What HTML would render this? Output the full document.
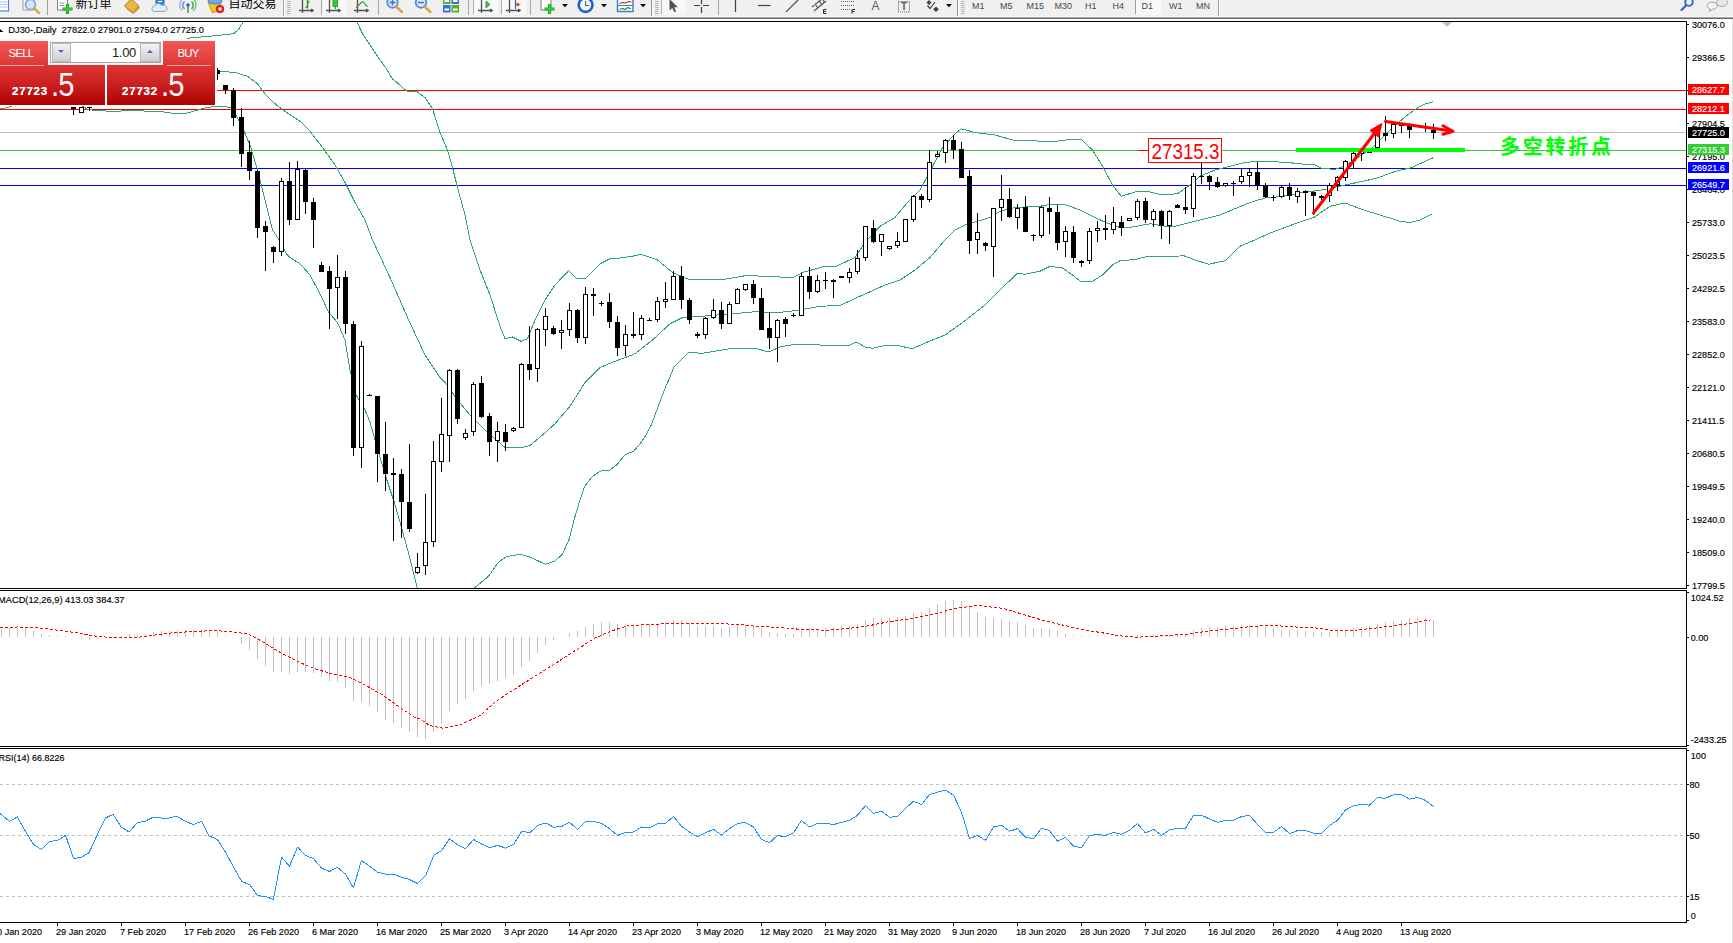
<!DOCTYPE html>
<html><head><meta charset="utf-8"><title>DJ30-,Daily</title>
<style>
html,body{margin:0;padding:0;background:#fff;}
body{width:1733px;height:943px;overflow:hidden;position:relative;font-family:"Liberation Sans","Noto Sans CJK SC",sans-serif;}
#tb{position:absolute;left:0;top:0;width:1733px;height:16px;background:#f0f0f0;overflow:hidden;}
#tb svg{position:absolute;left:0;top:0;}
#tb span{position:absolute;white-space:nowrap;color:#000;}
.tf{font-size:9px;color:#484848 !important;top:-0.5px;line-height:12px;}
#l1{position:absolute;left:0;top:16px;width:1733px;height:1px;background:#f8f8f8;}
#l2{position:absolute;left:0;top:17px;width:1733px;height:1px;background:#a8a8a8;}
#l3{position:absolute;left:0;top:18px;width:1733px;height:1px;background:#686868;}
#chart{position:absolute;left:0;top:0;}
#chart text{font-family:"Liberation Sans","Noto Sans CJK SC",sans-serif;}
#panel{position:absolute;left:0;top:41px;width:217px;height:65px;background:#fff;}
#panel div{position:absolute;box-sizing:border-box;}
.rb{background:linear-gradient(#f35858,#dc3838);color:#fff;font-size:11.5px;text-align:center;line-height:24px;letter-spacing:-0.8px;}
.pb{background:linear-gradient(#e03434 0%,#cc2020 50%,#ae0000 100%);color:#fff;}
.sm{font-weight:700;font-size:11.5px;letter-spacing:0.8px;line-height:11px;text-shadow:0 0 .5px #fff;}
.bg{font-size:33px;line-height:33px;letter-spacing:-1px;transform:scaleX(.88);transform-origin:0 0;}
.sp{background:linear-gradient(#f2f2f2,#cfcfcf);border:1px solid #b8b8b8;}
</style></head><body>
<div id="tb">
<svg width="1733" height="17" viewBox="0 0 1733 17"><!-- toolbar icons; y range 0..16 -->
<g shape-rendering="auto">
<!-- doc icon (cropped) -->
<rect x="-1" y="-2" width="9.5" height="13" fill="#fff" stroke="#5a82d2" stroke-width="1.2"/>
<path d="M0 2h7M0 4.5h7M0 7h7" stroke="#a8c0ee" stroke-width="1"/>
<!-- magnifier doc -->
<rect x="23" y="-2" width="11" height="12" fill="#f4f4f4" stroke="#a0a0a0" stroke-width="1"/>
<circle cx="30.5" cy="4.5" r="5" fill="#cfe2fa" stroke="#7fa6dc" stroke-width="1.6" fill-opacity=".85"/>
<path d="M34.5 8.5L39 13" stroke="#d9a53a" stroke-width="2.4" stroke-linecap="round"/>
<rect x="47" y="0" width="1" height="15" fill="#a0a0a0"/>
<!-- new order -->
<rect x="57.5" y="-2" width="10" height="12" fill="#fff" stroke="#808080"/>
<path d="M59.5 3h5M59.5 5.5h5" stroke="#909090"/>
<path d="M67.5 4v10M62.5 9h10" stroke="#1f9a1f" stroke-width="3.2"/>
<path d="M67.5 4.6v8.8M63.1 9h8.8" stroke="#39d339" stroke-width="1.6"/>
<!-- gold book -->
<path d="M124.5 6L131 -1L139 6L132 12.5z" fill="#e9b840" stroke="#b07c14" stroke-width="1"/>
<path d="M127 8.5L133.5 13L139.5 7.2" fill="none" stroke="#c89632" stroke-width="1.6"/>
<!-- cloud -->
<rect x="156" y="-2" width="8" height="8" fill="#3a8be0" stroke="#1d62b5"/>
<path d="M158 1.5h4" stroke="#fff"/>
<path d="M153.5 11.5a3 3 0 0 1 1-5.6a4 4 0 0 1 7.2-.4a3.2 3.2 0 0 1 3.6 5.8z" fill="#e4ebf5" stroke="#8aa0c0" stroke-width="1"/>
<!-- signal -->
<circle cx="188" cy="5" r="1.8" fill="#2f62c8"/>
<path d="M184.5 1.5a5 5 0 0 0 0 7.5" fill="none" stroke="#5c8ad8" stroke-width="1.5"/>
<path d="M182 -0.5a8 8 0 0 0 0 11" fill="none" stroke="#8fb0e6" stroke-width="1.4"/>
<path d="M191.5 1.5a5 5 0 0 1 0 7.5" fill="none" stroke="#4aa84a" stroke-width="1.6"/><path d="M194 -0.5a8 8 0 0 1 -1 11.5" fill="none" stroke="#7cc47c" stroke-width="1.5"/><path d="M188 6v7" stroke="#3c8c3c" stroke-width="1.4"/>
<!-- autotrading -->
<path d="M208 2.5h13l-3 8l-5.5 2.5z" fill="#f3c62c" stroke="#c79a12" stroke-width="1"/>
<ellipse cx="215" cy="1" rx="7" ry="3" fill="#6ea9e4" stroke="#3d7cc4" stroke-width="1"/>
<circle cx="220" cy="9" r="3.8" fill="#e02818" stroke="#b01208" stroke-width=".8"/>
<rect x="218.5" y="7.5" width="3" height="3" fill="#fff"/>
<!-- separator + gripper -->
<rect x="283" y="0" width="1" height="16" fill="#a8a8a8"/><rect x="284" y="0" width="1" height="16" fill="#fff"/>
<path d="M287 1.5h3.5M287 3.5h3.5M287 5.5h3.5M287 7.5h3.5M287 9.5h3.5M287 11.5h3.5M287 13.5h3.5" stroke="#b4b4b4" stroke-width="1"/>
<!-- bar chart icon -->
<g stroke="#505050" stroke-width="1.3" fill="none"><path d="M302.5 0v13M299 10.5h14"/><path d="M311 9l2.2 1.5l-2.2 1.5"/></g>
<path d="M307.5 0v8.5M305.5 7h2M307.5 2h2" stroke="#1ea01e" stroke-width="1.5" fill="none"/>
<rect x="321" y="0" width="1" height="15" fill="#a8a8a8"/>
<!-- candle icon pressed -->
<rect x="323" y="0" width="23" height="15" fill="#f9f9f9"/>
<g stroke="#505050" stroke-width="1.3" fill="none"><path d="M329.500 0v13M326 10.500h14"/><path d="M338 9l2.200 1.500l-2.200 1.500"/></g>
<rect x="333" y="-1" width="4.500" height="7.500" fill="#2fd32f" stroke="#1a8c1a" stroke-width=".8"/><path d="M335.250 6.500v2.500" stroke="#1a8c1a"/>
<!-- line chart icon -->
<g stroke="#505050" stroke-width="1.3" fill="none"><path d="M357.500 0v13M354 10.500h14"/><path d="M366 9l2.200 1.500l-2.200 1.500"/></g>
<path d="M356 7.500C360 5 361 1 363 2S366 6 367.500 6.500" stroke="#2a9a3a" stroke-width="1.300" fill="none"/>
<rect x="378" y="0" width="1" height="15" fill="#a8a8a8"/>
<!-- zoom in -->
<circle cx="392.500" cy="2.500" r="5.300" fill="#d6e6fb" stroke="#4f86d6" stroke-width="1.700"/>
<path d="M389.500 2.500h6M392.500 -0.500v6" stroke="#3d6fc0" stroke-width="1.400"/>
<path d="M396.500 7L402 12" stroke="#d9a53a" stroke-width="2.400" stroke-linecap="round"/>
<!-- zoom out -->
<circle cx="421" cy="2.500" r="5.300" fill="#d6e6fb" stroke="#4f86d6" stroke-width="1.700"/>
<path d="M418 2.500h6" stroke="#3d6fc0" stroke-width="1.400"/>
<path d="M425 7L430.500 12" stroke="#d9a53a" stroke-width="2.400" stroke-linecap="round"/>
<!-- tile -->
<rect x="443" y="-3" width="7.500" height="7" fill="#55b030"/><rect x="451.500" y="-3" width="7.500" height="7" fill="#3a6fd8"/>
<rect x="443" y="5" width="7.500" height="7.500" fill="#3a6fd8"/><rect x="451.500" y="5" width="7.500" height="7.500" fill="#55b030"/>
<path d="M444.500 1h4.500M453 1h4.500M444.500 9.500h4.500M453 9.500h4.500" stroke="#fff" stroke-width="2"/>
<rect x="468" y="0" width="1" height="15" fill="#a8a8a8"/>
<!-- autoscroll pressed -->
<rect x="473" y="0" width="1" height="14" fill="#b0b0b0"/><rect x="474" y="0" width="24" height="15" fill="#f9f9f9"/>
<g stroke="#505050" stroke-width="1.300" fill="none"><path d="M481.500 0v13M478 10.500h14"/><path d="M490 9l2.200 1.500l-2.200 1.500"/></g>
<path d="M486 1.200L490 4.500L486 7.800z" fill="#3fd03f" stroke="#1a9a1a" stroke-width=".9"/>
<rect x="501" y="0" width="1" height="14" fill="#b0b0b0"/><rect x="502" y="0" width="24" height="15" fill="#f9f9f9"/>
<g stroke="#505050" stroke-width="1.300" fill="none"><path d="M509.500 0v13M506 10.500h14"/><path d="M518 9l2.200 1.500l-2.200 1.500"/></g>
<path d="M515.500 0v9" stroke="#2a62b8" stroke-width="1.200"/><path d="M520.500 4.500h-4M518.500 2.800L516.500 4.500L518.500 6.200" stroke="#d8401c" stroke-width="1.200" fill="none"/>
<rect x="530" y="0" width="1" height="15" fill="#a8a8a8"/>
<!-- indicators -->
<rect x="541" y="-2" width="10" height="12" fill="#fff" stroke="#808080"/>
<path d="M549.500 4v10M544.500 9h10" stroke="#1f9a1f" stroke-width="3.200"/>
<path d="M549.500 4.600v8.800M545.100 9h8.800" stroke="#39d339" stroke-width="1.600"/>
<path d="M562 4h6l-3 3.200z" fill="#000"/>
<!-- clock -->
<circle cx="585.6" cy="5" r="6.900" fill="#f4f8ff" stroke="#1f62c8" stroke-width="2.600"/>
<path d="M585.6 1v4.500h3.500" stroke="#606060" stroke-width="1.100" fill="none"/>
<path d="M601 4h6l-3 3.200z" fill="#000"/>
<!-- templates -->
<rect x="617.500" y="-2" width="15.500" height="13.500" fill="#fff" stroke="#3d78d0" stroke-width="1.400"/>
<path d="M619.500 3.500l3-1l3 .5l3-1.500l3 .5" stroke="#a03018" stroke-width="1.200" fill="none"/>
<path d="M618 5.500h15" stroke="#3d78d0" stroke-width="1"/>
<path d="M619.500 9.500l3-1l2.500 1l3-2l3 1.500" stroke="#1e9a2e" stroke-width="1.200" fill="none"/>
<path d="M640 4h6l-3 3.200z" fill="#000"/>
<rect x="651" y="0" width="1" height="17" fill="#909090"/><rect x="652" y="0" width="1" height="17" fill="#fff"/>
<path d="M655 1.500h3.500M655 3.500h3.500M655 5.500h3.500M655 7.500h3.500M655 9.500h3.500M655 11.500h3.500M655 13.500h3.500" stroke="#b4b4b4" stroke-width="1"/>
<rect x="661" y="0" width="1" height="14" fill="#b0b0b0"/><rect x="662" y="0" width="24" height="15" fill="#f8f8f8"/>
<path d="M669.500 -1v11.500l2.800-2.600l2 4.300l1.800-.8l-2-4.200h3.800z" fill="#505050"/>
<path d="M694 5.500h6M703 5.500h6M701.500 -1v5M701.500 7v6" stroke="#404040" stroke-width="1.200"/>
<rect x="718" y="0" width="1" height="15" fill="#a8a8a8"/>
<path d="M735.500 0v12" stroke="#404040" stroke-width="1.200"/>
<path d="M758 5.500h12.500" stroke="#404040" stroke-width="1.200"/>
<path d="M786 12L798.500 -0.500" stroke="#505050" stroke-width="1.200"/>
<!-- channel -->
<path d="M812 7L822 -1M814 11L826 1M815 3.500l3 5M819 0.500l3 5M822.500 -1l2 3.500" stroke="#505050" stroke-width="1.100" fill="none"/>
<path d="M823.500 9.500v4h3M823.500 9.500h3M823.500 11.500h2.500" stroke="#303030" stroke-width="1" fill="none"/>
<!-- fibo -->
<path d="M841 1.500h13.500M841 5.500h13.500M841 9.500h9" stroke="#606060" stroke-width="1" stroke-dasharray="1,1"/>
<path d="M852 9.500v4.200M852 9.500h3M852 11.500h2.500" stroke="#303030" stroke-width="1" fill="none"/>
<!-- A / T / arrows are text below -->
<rect x="898.500" y="1.500" width="11" height="10.500" fill="none" stroke="#606060" stroke-width="1" stroke-dasharray="1,1"/>
<path d="M929 0l2.500 2.500l-2.500 2.500l-2.500-2.500zM936 6.500l2.800 2.800l-2.800 2.800l-2.800-2.800z" fill="#404040"/>
<path d="M927.500 5.500l2.500 3l5-6.500" stroke="#404040" stroke-width="1.200" fill="none"/>
<path d="M946 4h6l-3 3.200z" fill="#000"/>
<rect x="957" y="0" width="1" height="17" fill="#909090"/><rect x="958" y="0" width="1" height="17" fill="#fff"/>
<path d="M961 1.500h3.500M961 3.500h3.500M961 5.500h3.500M961 7.500h3.500M961 9.500h3.500M961 11.500h3.500M961 13.500h3.500" stroke="#b4b4b4" stroke-width="1"/>
<!-- D1 pressed -->
<rect x="1135" y="0" width="1" height="14" fill="#a0a0a0"/><rect x="1136" y="0" width="25" height="15" fill="#f8f8f8"/>
<rect x="1218" y="0" width="1" height="17" fill="#a0a0a0"/><rect x="1219" y="0" width="1" height="17" fill="#fff"/>
<!-- right icons -->
<circle cx="1689" cy="2" r="3.800" fill="#eaf1fc" stroke="#2f62c8" stroke-width="1.800"/>
<path d="M1686 5.500L1681.500 10" stroke="#2f62c8" stroke-width="2.200" stroke-linecap="round"/>
<path d="M1709 3a5 3.600 0 1 1 3 6.300l-2.500 2.200l.3-2.600a5 3.600 0 0 1 -.8-5.900z" fill="#f4f4f4" stroke="#a0a0a0" stroke-width="1"/>
<ellipse cx="1722" cy="2.500" rx="5.500" ry="4" fill="#e8e8e8" stroke="#a8a8a8"/>
</g>
</svg>
<span style="left:75.5px;top:-4.2px;font-size:12px;line-height:16px;">新订单</span>
<span style="left:228.5px;top:-4.2px;font-size:12px;line-height:16px;">自动交易</span>
<span style="left:871.5px;top:-2.5px;font-size:12px;line-height:16px;color:#606060;">A</span>
<span style="left:900.8px;top:-2px;font-size:10.5px;line-height:16px;color:#606060;font-weight:700;">T</span>
<span class="tf" style="left:972px;">M1</span><span class="tf" style="left:1000px;">M5</span><span class="tf" style="left:1026.5px;">M15</span><span class="tf" style="left:1054.5px;">M30</span><span class="tf" style="left:1085px;">H1</span><span class="tf" style="left:1112.5px;">H4</span><span class="tf" style="left:1141.5px;">D1</span><span class="tf" style="left:1169px;">W1</span><span class="tf" style="left:1196px;">MN</span>
</div>
<div id="l1"></div><div id="l2"></div><div id="l3"></div>
<svg id="chart" width="1733" height="943" viewBox="0 0 1733 943" font-family="Liberation Sans, sans-serif">
<g shape-rendering="crispEdges">
<rect x="217" y="90" width="1469" height="1" fill="#ff0000"/>
<rect x="0" y="109" width="1686" height="1" fill="#ff0000"/>
<rect x="0" y="132" width="1686" height="1" fill="#c0c0c0"/>
<rect x="0" y="150" width="1686" height="1" fill="#32cd32"/>
<rect x="0" y="168" width="1686" height="1" fill="#0000ff"/>
<rect x="0" y="185" width="1686" height="1" fill="#0000ff"/>
</g>
<g fill="none" stroke="#2aa864" stroke-width="1" stroke-linejoin="round" shape-rendering="crispEdges">
<polyline points="186.70,38.30 210.80,36.10 233.40,33.80 238.00,30.00 243.50,21.50"/>
<polyline points="356.60,21.50 363.10,34.60 370.70,45.90 378.20,57.20 385.70,67.70 392.50,79.00 397.00,82.40 403.80,88.80 407.50,91.25 417.50,92.00 425.00,97.50 432.50,108.75 440.00,132.50 447.50,150.00 452.50,167.50 457.50,187.50 465.00,215.00 470.00,240.00 480.00,270.00 490.00,295.00 500.00,326.25 505.00,338.75 512.50,337.00 521.00,341.25 527.50,338.75 535.00,320.00 545.00,300.00 555.00,285.00 568.75,270.50 576.00,278.25 585.00,278.75 600.00,263.75 610.00,258.75 620.00,258.00 632.50,256.25 641.25,254.25 657.50,260.00 672.50,272.50 690.00,280.00 725.00,279.25 745.00,275.75 770.00,276.25 792.50,278.00 802.50,272.50 825.00,266.25 835.00,267.00 855.00,257.50 865.00,242.50 880.00,226.25 895.00,217.50 907.50,202.50 920.00,190.00 930.00,171.25 942.50,147.50 955.00,133.75 961.25,128.75 975.00,132.50 995.00,135.00 1012.50,140.00 1030.00,140.50 1050.00,142.00 1070.00,139.50 1081.25,139.50 1092.50,150.00 1102.50,166.25 1112.50,185.00 1121.25,196.25 1137.50,191.25 1150.00,192.00 1162.50,195.00 1177.50,193.75 1190.00,185.00 1200.00,176.25 1215.00,170.00 1230.00,166.25 1245.00,162.50 1257.50,161.25 1270.00,161.75 1285.00,162.20 1302.50,164.10 1313.80,164.50 1321.30,168.20 1335.00,169.50 1345.00,166.00 1360.00,156.00 1372.70,147.60 1390.20,130.00 1402.70,118.80 1414.00,110.00 1424.00,104.40 1432.80,101.90"/>
<polyline points="218.75,71.25 235.00,72.50 247.50,76.25 257.50,83.75 265.00,93.75 275.00,103.75 285.00,111.25 300.00,121.25 310.00,131.25 322.50,147.50 335.00,165.00 345.00,182.50 355.00,202.50 365.00,220.00 372.50,240.00 380.00,256.00 390.00,277.50 407.50,317.50 425.00,355.00 440.00,377.50 446.00,383.75 457.50,400.00 470.00,415.00 487.50,432.50 505.00,447.50 520.00,448.00 530.00,445.50 542.50,435.00 555.00,423.75 570.00,406.25 585.00,382.50 600.00,367.50 615.00,361.25 620.00,359.50 635.00,353.75 652.50,340.00 670.00,323.75 682.50,317.50 702.50,316.25 732.50,313.75 755.00,311.75 775.00,313.00 800.00,310.00 820.00,306.25 840.00,305.50 860.00,296.25 885.00,285.00 900.00,280.00 915.00,270.00 930.00,257.50 945.00,240.00 955.00,230.00 965.00,225.00 977.50,221.25 990.00,217.50 1000.00,211.25 1015.00,207.50 1040.00,206.25 1050.00,204.50 1065.00,204.50 1080.00,210.00 1095.00,217.50 1107.50,223.25 1120.00,227.50 1132.50,227.00 1150.00,223.75 1165.00,226.25 1175.00,226.25 1190.00,222.50 1205.00,218.75 1220.00,215.00 1235.00,208.75 1250.00,202.50 1265.00,198.00 1282.50,196.40 1301.30,192.70 1325.10,189.50 1347.60,184.50 1376.40,178.30 1395.20,171.40 1411.50,167.60 1432.80,157.90"/>
<polyline points="0.00,109.00 6.80,107.60 15.00,105.00 80.00,105.00 88.80,109.80 110.00,111.30 135.50,110.60 165.60,112.10 174.60,113.60 186.70,113.20 203.30,108.30 216.80,106.10 225.80,106.80 231.90,108.30 235.00,113.75 241.25,125.00 250.00,145.00 257.50,170.00 265.00,200.00 272.50,230.00 280.00,241.25 286.25,253.75 290.00,257.50 300.00,263.75 310.00,275.00 320.00,293.75 328.75,312.50 337.50,322.50 345.00,340.00 350.00,370.00 356.00,395.00 364.10,408.00 370.00,422.00 380.20,458.00 386.20,478.00 394.20,502.00 402.20,530.00 408.20,552.00 414.20,576.00 417.20,588.00"/>
<polyline points="474.30,588.00 488.40,576.40 498.40,562.30 506.40,556.70 520.40,554.30 530.50,557.30 545.50,564.30 554.50,561.30 562.50,554.30 569.50,538.30 574.50,518.20 580.60,498.20 584.60,486.20 592.60,476.20 600.60,471.10 609.60,470.10 616.60,465.10 624.60,455.10 633.70,451.10 640.70,443.10 645.90,435.00 651.25,425.00 662.50,395.00 673.75,367.50 688.75,352.50 702.50,353.25 732.50,348.25 755.00,348.25 768.75,352.00 780.00,347.00 795.00,344.25 820.00,345.00 850.00,345.00 856.25,342.00 865.00,347.00 872.50,348.25 885.00,345.50 897.50,345.50 912.50,348.75 927.50,342.00 945.00,335.00 962.50,322.50 985.00,305.00 1002.50,287.50 1017.50,273.25 1025.00,274.25 1040.00,271.25 1050.00,266.25 1062.50,268.00 1072.50,275.00 1081.25,282.00 1092.50,281.25 1102.50,275.00 1112.50,265.00 1120.00,260.75 1135.00,259.50 1145.00,257.00 1167.50,256.75 1183.75,255.75 1195.00,260.00 1208.75,264.25 1225.00,260.75 1240.00,246.25 1255.00,240.00 1270.00,233.00 1295.00,223.75 1313.75,217.50 1330.00,206.25 1345.00,203.00 1360.00,208.75 1380.00,215.00 1400.00,221.25 1410.00,222.50 1420.00,220.00 1432.50,213.75"/>
</g>
<g shape-rendering="crispEdges" fill="#000">
<rect x="217" y="68" width="1" height="12"/>
<rect x="217" y="70" width="3" height="4"/>
<rect x="225" y="85" width="1" height="9"/>
<rect x="223" y="85" width="5" height="5"/>
<rect x="233" y="88" width="1" height="38"/>
<rect x="231" y="90" width="5" height="28"/>
<rect x="241" y="108" width="1" height="59"/>
<rect x="239" y="117" width="5" height="37"/>
<rect x="249" y="141" width="1" height="39"/>
<rect x="247" y="152" width="5" height="19"/>
<rect x="257" y="170" width="1" height="68"/>
<rect x="255" y="171" width="5" height="57"/>
<rect x="265" y="221" width="1" height="50"/>
<rect x="263" y="226" width="5" height="6"/>
<rect x="273" y="246" width="1" height="17"/>
<rect x="271" y="247" width="5" height="5"/>
<rect x="281" y="178" width="1" height="78"/>
<rect x="279" y="181" width="5" height="71"/>
<rect x="280" y="182" width="3" height="69" fill="#fff"/>
<rect x="289" y="162" width="1" height="63"/>
<rect x="287" y="181" width="5" height="39"/>
<rect x="297" y="161" width="1" height="59"/>
<rect x="295" y="169" width="5" height="51"/>
<rect x="296" y="170" width="3" height="49" fill="#fff"/>
<rect x="305" y="169" width="1" height="45"/>
<rect x="303" y="170" width="5" height="32"/>
<rect x="313" y="198" width="1" height="50"/>
<rect x="311" y="202" width="5" height="18"/>
<rect x="321" y="262" width="1" height="10"/>
<rect x="319" y="265" width="5" height="7"/>
<rect x="329" y="266" width="1" height="63"/>
<rect x="327" y="271" width="5" height="18"/>
<rect x="337" y="255" width="1" height="64"/>
<rect x="335" y="277" width="5" height="11"/>
<rect x="336" y="278" width="3" height="9" fill="#fff"/>
<rect x="345" y="271" width="1" height="63"/>
<rect x="343" y="277" width="5" height="47"/>
<rect x="353" y="321" width="1" height="135"/>
<rect x="351" y="324" width="5" height="124"/>
<rect x="361" y="341" width="1" height="127"/>
<rect x="359" y="346" width="5" height="102"/>
<rect x="360" y="347" width="3" height="100" fill="#fff"/>
<rect x="369" y="394" width="1" height="2"/>
<rect x="367" y="395" width="5" height="1"/>
<rect x="377" y="396" width="1" height="86"/>
<rect x="375" y="396" width="5" height="58"/>
<rect x="385" y="422" width="1" height="69"/>
<rect x="383" y="454" width="5" height="20"/>
<rect x="393" y="458" width="1" height="83"/>
<rect x="391" y="473" width="5" height="2"/>
<rect x="401" y="469" width="1" height="69"/>
<rect x="399" y="474" width="5" height="28"/>
<rect x="409" y="444" width="1" height="88"/>
<rect x="407" y="502" width="5" height="27"/>
<rect x="417" y="553" width="1" height="21"/>
<rect x="415" y="567" width="5" height="6"/>
<rect x="416" y="568" width="3" height="4" fill="#fff"/>
<rect x="425" y="494" width="1" height="81"/>
<rect x="423" y="542" width="5" height="24"/>
<rect x="424" y="543" width="3" height="22" fill="#fff"/>
<rect x="433" y="441" width="1" height="106"/>
<rect x="431" y="461" width="5" height="81"/>
<rect x="432" y="462" width="3" height="79" fill="#fff"/>
<rect x="441" y="398" width="1" height="74"/>
<rect x="439" y="434" width="5" height="28"/>
<rect x="440" y="435" width="3" height="26" fill="#fff"/>
<rect x="449" y="369" width="1" height="93"/>
<rect x="447" y="370" width="5" height="66"/>
<rect x="448" y="371" width="3" height="64" fill="#fff"/>
<rect x="457" y="369" width="1" height="55"/>
<rect x="455" y="370" width="5" height="49"/>
<rect x="465" y="429" width="1" height="11"/>
<rect x="463" y="433" width="5" height="5"/>
<rect x="464" y="434" width="3" height="3" fill="#fff"/>
<rect x="473" y="382" width="1" height="54"/>
<rect x="471" y="384" width="5" height="48"/>
<rect x="472" y="385" width="3" height="46" fill="#fff"/>
<rect x="481" y="376" width="1" height="42"/>
<rect x="479" y="383" width="5" height="34"/>
<rect x="489" y="413" width="1" height="43"/>
<rect x="487" y="416" width="5" height="26"/>
<rect x="497" y="422" width="1" height="40"/>
<rect x="495" y="431" width="5" height="10"/>
<rect x="496" y="432" width="3" height="8" fill="#fff"/>
<rect x="505" y="424" width="1" height="27"/>
<rect x="503" y="432" width="5" height="10"/>
<rect x="513" y="427" width="1" height="5"/>
<rect x="511" y="428" width="5" height="3"/>
<rect x="512" y="429" width="3" height="1" fill="#fff"/>
<rect x="521" y="363" width="1" height="65"/>
<rect x="519" y="364" width="5" height="64"/>
<rect x="520" y="365" width="3" height="62" fill="#fff"/>
<rect x="529" y="326" width="1" height="54"/>
<rect x="527" y="364" width="5" height="6"/>
<rect x="537" y="328" width="1" height="54"/>
<rect x="535" y="329" width="5" height="40"/>
<rect x="536" y="330" width="3" height="38" fill="#fff"/>
<rect x="545" y="308" width="1" height="38"/>
<rect x="543" y="316" width="5" height="14"/>
<rect x="544" y="317" width="3" height="12" fill="#fff"/>
<rect x="553" y="326" width="1" height="9"/>
<rect x="551" y="328" width="5" height="6"/>
<rect x="561" y="320" width="1" height="29"/>
<rect x="559" y="330" width="5" height="3"/>
<rect x="560" y="331" width="3" height="1" fill="#fff"/>
<rect x="569" y="303" width="1" height="33"/>
<rect x="567" y="310" width="5" height="20"/>
<rect x="568" y="311" width="3" height="18" fill="#fff"/>
<rect x="577" y="309" width="1" height="34"/>
<rect x="575" y="310" width="5" height="28"/>
<rect x="585" y="287" width="1" height="57"/>
<rect x="583" y="294" width="5" height="44"/>
<rect x="584" y="295" width="3" height="42" fill="#fff"/>
<rect x="593" y="288" width="1" height="28"/>
<rect x="591" y="294" width="5" height="2"/>
<rect x="601" y="301" width="1" height="5"/>
<rect x="599" y="303" width="5" height="1"/>
<rect x="609" y="293" width="1" height="35"/>
<rect x="607" y="302" width="5" height="20"/>
<rect x="617" y="316" width="1" height="40"/>
<rect x="615" y="322" width="5" height="26"/>
<rect x="625" y="325" width="1" height="31"/>
<rect x="623" y="334" width="5" height="12"/>
<rect x="624" y="335" width="3" height="10" fill="#fff"/>
<rect x="633" y="312" width="1" height="26"/>
<rect x="631" y="334" width="5" height="2"/>
<rect x="641" y="315" width="1" height="25"/>
<rect x="639" y="318" width="5" height="17"/>
<rect x="640" y="319" width="3" height="15" fill="#fff"/>
<rect x="649" y="318" width="1" height="3"/>
<rect x="647" y="320" width="5" height="1"/>
<rect x="657" y="297" width="1" height="25"/>
<rect x="655" y="301" width="5" height="19"/>
<rect x="656" y="302" width="3" height="17" fill="#fff"/>
<rect x="665" y="282" width="1" height="26"/>
<rect x="663" y="299" width="5" height="3"/>
<rect x="664" y="300" width="3" height="1" fill="#fff"/>
<rect x="673" y="271" width="1" height="29"/>
<rect x="671" y="276" width="5" height="24"/>
<rect x="672" y="277" width="3" height="22" fill="#fff"/>
<rect x="681" y="266" width="1" height="43"/>
<rect x="679" y="276" width="5" height="24"/>
<rect x="689" y="298" width="1" height="26"/>
<rect x="687" y="300" width="5" height="20"/>
<rect x="697" y="332" width="1" height="6"/>
<rect x="695" y="334" width="5" height="2"/>
<rect x="705" y="317" width="1" height="22"/>
<rect x="703" y="318" width="5" height="17"/>
<rect x="704" y="319" width="3" height="15" fill="#fff"/>
<rect x="713" y="299" width="1" height="20"/>
<rect x="711" y="310" width="5" height="8"/>
<rect x="712" y="311" width="3" height="6" fill="#fff"/>
<rect x="721" y="302" width="1" height="27"/>
<rect x="719" y="310" width="5" height="14"/>
<rect x="729" y="302" width="1" height="22"/>
<rect x="727" y="304" width="5" height="20"/>
<rect x="728" y="305" width="3" height="18" fill="#fff"/>
<rect x="737" y="288" width="1" height="16"/>
<rect x="735" y="289" width="5" height="15"/>
<rect x="736" y="290" width="3" height="13" fill="#fff"/>
<rect x="745" y="284" width="1" height="7"/>
<rect x="743" y="284" width="5" height="6"/>
<rect x="744" y="285" width="3" height="4" fill="#fff"/>
<rect x="753" y="280" width="1" height="24"/>
<rect x="751" y="284" width="5" height="14"/>
<rect x="761" y="288" width="1" height="42"/>
<rect x="759" y="298" width="5" height="32"/>
<rect x="769" y="312" width="1" height="37"/>
<rect x="767" y="328" width="5" height="10"/>
<rect x="777" y="319" width="1" height="43"/>
<rect x="775" y="320" width="5" height="18"/>
<rect x="776" y="321" width="3" height="16" fill="#fff"/>
<rect x="785" y="317" width="1" height="20"/>
<rect x="783" y="319" width="5" height="5"/>
<rect x="793" y="313" width="1" height="4"/>
<rect x="791" y="315" width="5" height="1"/>
<rect x="801" y="273" width="1" height="43"/>
<rect x="799" y="276" width="5" height="40"/>
<rect x="800" y="277" width="3" height="38" fill="#fff"/>
<rect x="809" y="267" width="1" height="32"/>
<rect x="807" y="276" width="5" height="16"/>
<rect x="817" y="275" width="1" height="18"/>
<rect x="815" y="280" width="5" height="12"/>
<rect x="816" y="281" width="3" height="10" fill="#fff"/>
<rect x="825" y="272" width="1" height="17"/>
<rect x="823" y="280" width="5" height="1"/>
<rect x="833" y="279" width="1" height="19"/>
<rect x="831" y="280" width="5" height="2"/>
<rect x="841" y="276" width="1" height="2"/>
<rect x="839" y="276" width="5" height="2"/>
<rect x="849" y="268" width="1" height="15"/>
<rect x="847" y="272" width="5" height="6"/>
<rect x="848" y="273" width="3" height="4" fill="#fff"/>
<rect x="857" y="250" width="1" height="24"/>
<rect x="855" y="258" width="5" height="14"/>
<rect x="856" y="259" width="3" height="12" fill="#fff"/>
<rect x="865" y="226" width="1" height="35"/>
<rect x="863" y="226" width="5" height="32"/>
<rect x="864" y="227" width="3" height="30" fill="#fff"/>
<rect x="873" y="220" width="1" height="23"/>
<rect x="871" y="228" width="5" height="14"/>
<rect x="881" y="234" width="1" height="22"/>
<rect x="879" y="234" width="5" height="8"/>
<rect x="880" y="235" width="3" height="6" fill="#fff"/>
<rect x="889" y="246" width="1" height="4"/>
<rect x="887" y="246" width="5" height="3"/>
<rect x="888" y="247" width="3" height="1" fill="#fff"/>
<rect x="897" y="232" width="1" height="16"/>
<rect x="895" y="241" width="5" height="5"/>
<rect x="896" y="242" width="3" height="3" fill="#fff"/>
<rect x="905" y="219" width="1" height="23"/>
<rect x="903" y="219" width="5" height="23"/>
<rect x="904" y="220" width="3" height="21" fill="#fff"/>
<rect x="913" y="195" width="1" height="27"/>
<rect x="911" y="196" width="5" height="24"/>
<rect x="912" y="197" width="3" height="22" fill="#fff"/>
<rect x="921" y="194" width="1" height="14"/>
<rect x="919" y="196" width="5" height="4"/>
<rect x="929" y="150" width="1" height="52"/>
<rect x="927" y="162" width="5" height="38"/>
<rect x="928" y="163" width="3" height="36" fill="#fff"/>
<rect x="937" y="151" width="1" height="5"/>
<rect x="935" y="154" width="5" height="3"/>
<rect x="936" y="155" width="3" height="1" fill="#fff"/>
<rect x="945" y="139" width="1" height="24"/>
<rect x="943" y="140" width="5" height="13"/>
<rect x="944" y="141" width="3" height="11" fill="#fff"/>
<rect x="953" y="135" width="1" height="24"/>
<rect x="951" y="140" width="5" height="10"/>
<rect x="961" y="142" width="1" height="36"/>
<rect x="959" y="149" width="5" height="29"/>
<rect x="969" y="170" width="1" height="84"/>
<rect x="967" y="176" width="5" height="65"/>
<rect x="977" y="213" width="1" height="41"/>
<rect x="975" y="232" width="5" height="8"/>
<rect x="976" y="233" width="3" height="6" fill="#fff"/>
<rect x="985" y="242" width="1" height="9"/>
<rect x="983" y="243" width="5" height="3"/>
<rect x="993" y="208" width="1" height="69"/>
<rect x="991" y="208" width="5" height="39"/>
<rect x="992" y="209" width="3" height="37" fill="#fff"/>
<rect x="1001" y="175" width="1" height="46"/>
<rect x="999" y="199" width="5" height="9"/>
<rect x="1000" y="200" width="3" height="7" fill="#fff"/>
<rect x="1009" y="188" width="1" height="30"/>
<rect x="1007" y="199" width="5" height="18"/>
<rect x="1017" y="204" width="1" height="25"/>
<rect x="1015" y="208" width="5" height="10"/>
<rect x="1016" y="209" width="3" height="8" fill="#fff"/>
<rect x="1025" y="196" width="1" height="36"/>
<rect x="1023" y="207" width="5" height="25"/>
<rect x="1033" y="234" width="1" height="7"/>
<rect x="1031" y="235" width="5" height="1"/>
<rect x="1041" y="206" width="1" height="32"/>
<rect x="1039" y="207" width="5" height="29"/>
<rect x="1040" y="208" width="3" height="27" fill="#fff"/>
<rect x="1049" y="197" width="1" height="37"/>
<rect x="1047" y="208" width="5" height="4"/>
<rect x="1057" y="205" width="1" height="45"/>
<rect x="1055" y="212" width="5" height="31"/>
<rect x="1065" y="226" width="1" height="31"/>
<rect x="1063" y="231" width="5" height="11"/>
<rect x="1064" y="232" width="3" height="9" fill="#fff"/>
<rect x="1073" y="226" width="1" height="37"/>
<rect x="1071" y="232" width="5" height="26"/>
<rect x="1081" y="260" width="1" height="7"/>
<rect x="1079" y="261" width="5" height="2"/>
<rect x="1089" y="228" width="1" height="36"/>
<rect x="1087" y="231" width="5" height="30"/>
<rect x="1088" y="232" width="3" height="28" fill="#fff"/>
<rect x="1097" y="221" width="1" height="21"/>
<rect x="1095" y="228" width="5" height="3"/>
<rect x="1096" y="229" width="3" height="1" fill="#fff"/>
<rect x="1105" y="215" width="1" height="25"/>
<rect x="1103" y="228" width="5" height="2"/>
<rect x="1113" y="207" width="1" height="27"/>
<rect x="1111" y="222" width="5" height="8"/>
<rect x="1112" y="223" width="3" height="6" fill="#fff"/>
<rect x="1121" y="216" width="1" height="20"/>
<rect x="1119" y="222" width="5" height="6"/>
<rect x="1129" y="218" width="1" height="3"/>
<rect x="1127" y="218" width="5" height="3"/>
<rect x="1128" y="219" width="3" height="1" fill="#fff"/>
<rect x="1137" y="199" width="1" height="21"/>
<rect x="1135" y="201" width="5" height="17"/>
<rect x="1136" y="202" width="3" height="15" fill="#fff"/>
<rect x="1145" y="198" width="1" height="25"/>
<rect x="1143" y="201" width="5" height="19"/>
<rect x="1153" y="209" width="1" height="18"/>
<rect x="1151" y="211" width="5" height="9"/>
<rect x="1152" y="212" width="3" height="7" fill="#fff"/>
<rect x="1161" y="210" width="1" height="29"/>
<rect x="1159" y="211" width="5" height="15"/>
<rect x="1169" y="210" width="1" height="34"/>
<rect x="1167" y="211" width="5" height="15"/>
<rect x="1168" y="212" width="3" height="13" fill="#fff"/>
<rect x="1177" y="204" width="1" height="4"/>
<rect x="1175" y="205" width="5" height="3"/>
<rect x="1185" y="187" width="1" height="27"/>
<rect x="1183" y="207" width="5" height="3"/>
<rect x="1193" y="173" width="1" height="44"/>
<rect x="1191" y="176" width="5" height="33"/>
<rect x="1192" y="177" width="3" height="31" fill="#fff"/>
<rect x="1201" y="162" width="1" height="22"/>
<rect x="1199" y="176" width="5" height="1"/>
<rect x="1209" y="175" width="1" height="15"/>
<rect x="1207" y="176" width="5" height="6"/>
<rect x="1217" y="177" width="1" height="11"/>
<rect x="1215" y="182" width="5" height="5"/>
<rect x="1225" y="183" width="1" height="4"/>
<rect x="1223" y="183" width="5" height="3"/>
<rect x="1224" y="184" width="3" height="1" fill="#fff"/>
<rect x="1233" y="181" width="1" height="15"/>
<rect x="1231" y="183" width="5" height="1"/>
<rect x="1241" y="169" width="1" height="15"/>
<rect x="1239" y="176" width="5" height="6"/>
<rect x="1240" y="177" width="3" height="4" fill="#fff"/>
<rect x="1249" y="168" width="1" height="19"/>
<rect x="1247" y="172" width="5" height="4"/>
<rect x="1248" y="173" width="3" height="2" fill="#fff"/>
<rect x="1257" y="162" width="1" height="28"/>
<rect x="1255" y="172" width="5" height="14"/>
<rect x="1265" y="183" width="1" height="15"/>
<rect x="1263" y="185" width="5" height="12"/>
<rect x="1273" y="195" width="1" height="6"/>
<rect x="1271" y="197" width="5" height="1"/>
<rect x="1281" y="186" width="1" height="12"/>
<rect x="1279" y="187" width="5" height="10"/>
<rect x="1280" y="188" width="3" height="8" fill="#fff"/>
<rect x="1289" y="183" width="1" height="17"/>
<rect x="1287" y="187" width="5" height="9"/>
<rect x="1297" y="188" width="1" height="15"/>
<rect x="1295" y="191" width="5" height="6"/>
<rect x="1296" y="192" width="3" height="4" fill="#fff"/>
<rect x="1305" y="190" width="1" height="26"/>
<rect x="1303" y="191" width="5" height="2"/>
<rect x="1313" y="191" width="1" height="24"/>
<rect x="1311" y="192" width="5" height="4"/>
<rect x="1321" y="195" width="1" height="5"/>
<rect x="1319" y="196" width="5" height="2"/>
<rect x="1329" y="183" width="1" height="19"/>
<rect x="1327" y="185" width="5" height="11"/>
<rect x="1328" y="186" width="3" height="9" fill="#fff"/>
<rect x="1337" y="176" width="1" height="15"/>
<rect x="1335" y="177" width="5" height="8"/>
<rect x="1336" y="178" width="3" height="6" fill="#fff"/>
<rect x="1345" y="160" width="1" height="21"/>
<rect x="1343" y="161" width="5" height="17"/>
<rect x="1344" y="162" width="3" height="15" fill="#fff"/>
<rect x="1353" y="152" width="1" height="17"/>
<rect x="1351" y="153" width="5" height="8"/>
<rect x="1352" y="154" width="3" height="6" fill="#fff"/>
<rect x="1361" y="150" width="1" height="11"/>
<rect x="1359" y="150" width="5" height="4"/>
<rect x="1360" y="151" width="3" height="2" fill="#fff"/>
<rect x="1369" y="152" width="1" height="1"/>
<rect x="1367" y="152" width="5" height="1"/>
<rect x="1377" y="131" width="1" height="17"/>
<rect x="1375" y="132" width="5" height="16"/>
<rect x="1376" y="133" width="3" height="14" fill="#fff"/>
<rect x="1385" y="116" width="1" height="25"/>
<rect x="1383" y="133" width="5" height="3"/>
<rect x="1393" y="124" width="1" height="14"/>
<rect x="1391" y="124" width="5" height="10"/>
<rect x="1392" y="125" width="3" height="8" fill="#fff"/>
<rect x="1401" y="124" width="1" height="9"/>
<rect x="1399" y="125" width="5" height="1"/>
<rect x="1409" y="123" width="1" height="15"/>
<rect x="1407" y="126" width="5" height="4"/>
<rect x="1425" y="123" width="1" height="9"/>
<rect x="1423" y="126" width="5" height="1"/>
<rect x="1433" y="124" width="1" height="15"/>
<rect x="1431" y="130" width="5" height="3"/>
<rect x="71" y="107" width="5" height="2"/><rect x="73" y="107" width="1" height="8"/>
<rect x="79" y="107" width="5" height="6"/><rect x="80" y="108" width="3" height="4" fill="#fff"/>
<rect x="89" y="107" width="1" height="4"/><rect x="87" y="107" width="5" height="1"/>
</g>
<polygon points="1442,22 1452,22 1447,27" fill="#c0c0c0"/>
<rect x="1296" y="148" width="169" height="4" fill="#00ff00" shape-rendering="crispEdges"/>
<g stroke="#ff0000" fill="#ff0000" stroke-width="3" stroke-linecap="round">
<line x1="1313.5" y1="213" x2="1374" y2="134"/>
<polygon points="1381.5,124 1370.5,130.5 1378.5,136.5" stroke-width="1.5" stroke-linejoin="round"/>
<line x1="1385.5" y1="121.5" x2="1450" y2="130.8"/>
<polyline points="1443,125.8 1453,131.2 1443,134.3" fill="none" stroke-linejoin="round"/>
</g>
<rect x="1138" y="150" width="11" height="1" fill="#ff0000" shape-rendering="crispEdges"/>
<rect x="1148.5" y="138.5" width="73" height="24" fill="#fff" stroke="#ff0000" stroke-width="1" shape-rendering="crispEdges"/>
<g shape-rendering="crispEdges" fill="#c0c0c0">
<rect x="1" y="629" width="1" height="8"/>
<rect x="9" y="628" width="1" height="9"/>
<rect x="17" y="628" width="1" height="9"/>
<rect x="25" y="628" width="1" height="9"/>
<rect x="33" y="631" width="1" height="6"/>
<rect x="41" y="634" width="1" height="3"/>
<rect x="49" y="635" width="1" height="2"/>
<rect x="57" y="636" width="1" height="1"/>
<rect x="65" y="636" width="1" height="1"/>
<rect x="81" y="637" width="1" height="2"/>
<rect x="89" y="637" width="1" height="3"/>
<rect x="97" y="637" width="1" height="2"/>
<rect x="105" y="637" width="1" height="1"/>
<rect x="113" y="637" width="1" height="1"/>
<rect x="121" y="636" width="1" height="1"/>
<rect x="129" y="634" width="1" height="3"/>
<rect x="137" y="634" width="1" height="3"/>
<rect x="145" y="634" width="1" height="3"/>
<rect x="153" y="632" width="1" height="5"/>
<rect x="161" y="631" width="1" height="6"/>
<rect x="169" y="631" width="1" height="6"/>
<rect x="177" y="630" width="1" height="7"/>
<rect x="185" y="630" width="1" height="7"/>
<rect x="193" y="630" width="1" height="7"/>
<rect x="201" y="630" width="1" height="7"/>
<rect x="209" y="630" width="1" height="7"/>
<rect x="217" y="631" width="1" height="6"/>
<rect x="225" y="636" width="1" height="1"/>
<rect x="241" y="637" width="1" height="7"/>
<rect x="249" y="637" width="1" height="13"/>
<rect x="257" y="637" width="1" height="22"/>
<rect x="265" y="637" width="1" height="29"/>
<rect x="273" y="637" width="1" height="35"/>
<rect x="281" y="637" width="1" height="35"/>
<rect x="289" y="637" width="1" height="37"/>
<rect x="297" y="637" width="1" height="35"/>
<rect x="305" y="637" width="1" height="35"/>
<rect x="313" y="637" width="1" height="36"/>
<rect x="321" y="637" width="1" height="40"/>
<rect x="329" y="637" width="1" height="44"/>
<rect x="337" y="637" width="1" height="45"/>
<rect x="345" y="637" width="1" height="51"/>
<rect x="353" y="637" width="1" height="64"/>
<rect x="361" y="637" width="1" height="65"/>
<rect x="369" y="637" width="1" height="69"/>
<rect x="377" y="637" width="1" height="75"/>
<rect x="385" y="637" width="1" height="83"/>
<rect x="393" y="637" width="1" height="86"/>
<rect x="401" y="637" width="1" height="91"/>
<rect x="409" y="637" width="1" height="95"/>
<rect x="417" y="637" width="1" height="100"/>
<rect x="425" y="637" width="1" height="102"/>
<rect x="433" y="637" width="1" height="95"/>
<rect x="441" y="637" width="1" height="87"/>
<rect x="449" y="637" width="1" height="74"/>
<rect x="457" y="637" width="1" height="67"/>
<rect x="465" y="637" width="1" height="62"/>
<rect x="473" y="637" width="1" height="54"/>
<rect x="481" y="637" width="1" height="49"/>
<rect x="489" y="637" width="1" height="47"/>
<rect x="497" y="637" width="1" height="44"/>
<rect x="505" y="637" width="1" height="41"/>
<rect x="513" y="637" width="1" height="38"/>
<rect x="521" y="637" width="1" height="30"/>
<rect x="529" y="637" width="1" height="24"/>
<rect x="537" y="637" width="1" height="16"/>
<rect x="545" y="637" width="1" height="8"/>
<rect x="553" y="637" width="1" height="3"/>
<rect x="569" y="633" width="1" height="4"/>
<rect x="577" y="631" width="1" height="6"/>
<rect x="585" y="627" width="1" height="10"/>
<rect x="593" y="624" width="1" height="13"/>
<rect x="601" y="622" width="1" height="15"/>
<rect x="609" y="622" width="1" height="15"/>
<rect x="617" y="624" width="1" height="13"/>
<rect x="625" y="625" width="1" height="12"/>
<rect x="633" y="625" width="1" height="12"/>
<rect x="641" y="624" width="1" height="13"/>
<rect x="649" y="624" width="1" height="13"/>
<rect x="657" y="624" width="1" height="13"/>
<rect x="665" y="622" width="1" height="15"/>
<rect x="673" y="620" width="1" height="17"/>
<rect x="681" y="620" width="1" height="17"/>
<rect x="689" y="623" width="1" height="14"/>
<rect x="697" y="626" width="1" height="11"/>
<rect x="705" y="626" width="1" height="11"/>
<rect x="713" y="626" width="1" height="11"/>
<rect x="721" y="628" width="1" height="9"/>
<rect x="729" y="627" width="1" height="10"/>
<rect x="737" y="625" width="1" height="12"/>
<rect x="745" y="625" width="1" height="12"/>
<rect x="753" y="626" width="1" height="11"/>
<rect x="761" y="628" width="1" height="9"/>
<rect x="769" y="632" width="1" height="5"/>
<rect x="777" y="633" width="1" height="4"/>
<rect x="785" y="634" width="1" height="3"/>
<rect x="793" y="634" width="1" height="3"/>
<rect x="801" y="631" width="1" height="6"/>
<rect x="809" y="628" width="1" height="9"/>
<rect x="817" y="630" width="1" height="7"/>
<rect x="825" y="628" width="1" height="9"/>
<rect x="833" y="627" width="1" height="10"/>
<rect x="841" y="626" width="1" height="11"/>
<rect x="849" y="626" width="1" height="11"/>
<rect x="857" y="624" width="1" height="13"/>
<rect x="865" y="620" width="1" height="17"/>
<rect x="873" y="618" width="1" height="19"/>
<rect x="881" y="618" width="1" height="19"/>
<rect x="889" y="618" width="1" height="19"/>
<rect x="897" y="617" width="1" height="20"/>
<rect x="905" y="616" width="1" height="21"/>
<rect x="913" y="613" width="1" height="24"/>
<rect x="921" y="612" width="1" height="25"/>
<rect x="929" y="608" width="1" height="29"/>
<rect x="937" y="604" width="1" height="33"/>
<rect x="945" y="601" width="1" height="36"/>
<rect x="953" y="600" width="1" height="37"/>
<rect x="961" y="601" width="1" height="36"/>
<rect x="969" y="607" width="1" height="30"/>
<rect x="977" y="612" width="1" height="25"/>
<rect x="985" y="617" width="1" height="20"/>
<rect x="993" y="618" width="1" height="19"/>
<rect x="1001" y="619" width="1" height="18"/>
<rect x="1009" y="621" width="1" height="16"/>
<rect x="1017" y="622" width="1" height="15"/>
<rect x="1025" y="625" width="1" height="12"/>
<rect x="1033" y="628" width="1" height="9"/>
<rect x="1041" y="628" width="1" height="9"/>
<rect x="1049" y="629" width="1" height="8"/>
<rect x="1057" y="631" width="1" height="6"/>
<rect x="1065" y="634" width="1" height="3"/>
<rect x="1073" y="636" width="1" height="1"/>
<rect x="1081" y="636" width="1" height="1"/>
<rect x="1089" y="636" width="1" height="1"/>
<rect x="1097" y="636" width="1" height="1"/>
<rect x="1137" y="635" width="1" height="2"/>
<rect x="1145" y="636" width="1" height="1"/>
<rect x="1153" y="634" width="1" height="3"/>
<rect x="1161" y="635" width="1" height="2"/>
<rect x="1169" y="634" width="1" height="3"/>
<rect x="1177" y="634" width="1" height="3"/>
<rect x="1185" y="634" width="1" height="3"/>
<rect x="1193" y="630" width="1" height="7"/>
<rect x="1201" y="628" width="1" height="9"/>
<rect x="1209" y="627" width="1" height="10"/>
<rect x="1217" y="627" width="1" height="10"/>
<rect x="1225" y="626" width="1" height="11"/>
<rect x="1233" y="626" width="1" height="11"/>
<rect x="1241" y="625" width="1" height="12"/>
<rect x="1249" y="625" width="1" height="12"/>
<rect x="1257" y="625" width="1" height="12"/>
<rect x="1265" y="627" width="1" height="10"/>
<rect x="1273" y="628" width="1" height="9"/>
<rect x="1281" y="630" width="1" height="7"/>
<rect x="1289" y="630" width="1" height="7"/>
<rect x="1297" y="630" width="1" height="7"/>
<rect x="1305" y="631" width="1" height="6"/>
<rect x="1313" y="632" width="1" height="5"/>
<rect x="1321" y="632" width="1" height="5"/>
<rect x="1329" y="632" width="1" height="5"/>
<rect x="1337" y="631" width="1" height="6"/>
<rect x="1345" y="630" width="1" height="7"/>
<rect x="1353" y="628" width="1" height="9"/>
<rect x="1361" y="627" width="1" height="10"/>
<rect x="1369" y="626" width="1" height="11"/>
<rect x="1377" y="624" width="1" height="13"/>
<rect x="1385" y="622" width="1" height="15"/>
<rect x="1393" y="621" width="1" height="16"/>
<rect x="1401" y="620" width="1" height="17"/>
<rect x="1409" y="618" width="1" height="19"/>
<rect x="1417" y="618" width="1" height="19"/>
<rect x="1425" y="618" width="1" height="19"/>
<rect x="1433" y="620" width="1" height="17"/>
</g>
<polyline points="0.00,628.00 17.50,627.00 32.50,627.50 50.00,629.25 75.00,632.50 90.00,635.50 105.00,637.00 125.00,637.50 140.00,637.00 155.00,635.00 175.00,632.50 200.00,631.25 215.00,630.50 230.00,631.75 247.50,633.75 257.50,638.75 270.00,646.25 282.50,653.75 300.00,662.50 315.00,668.75 330.00,673.25 350.00,677.50 365.00,685.00 382.50,695.00 400.00,707.50 415.00,717.50 420.00,718.90 430.00,725.60 443.40,728.20 460.00,724.90 480.00,715.50 497.00,700.50 520.40,685.40 547.00,668.70 570.60,653.60 594.00,638.50 610.80,631.20 627.50,625.80 654.30,624.20 681.00,623.50 714.50,623.50 741.30,624.50 754.70,626.20 781.40,627.50 801.50,629.50 828.30,630.20 848.40,628.50 868.50,625.80 888.50,621.80 912.00,618.50 932.00,614.50 955.50,608.40 975.50,605.70 983.30,606.10 1003.40,608.40 1023.50,614.50 1040.20,619.50 1060.30,624.50 1080.40,629.20 1100.50,632.50 1120.60,635.90 1137.30,637.20 1160.70,635.90 1187.50,634.20 1207.60,631.20 1234.40,628.50 1254.40,626.20 1271.20,625.20 1291.20,626.80 1314.70,627.80 1331.40,630.20 1354.80,630.20 1378.30,627.80 1398.30,625.20 1415.10,622.50 1430.10,620.10" fill="none" stroke="#ff0000" stroke-width="1" stroke-dasharray="3,2" shape-rendering="crispEdges"/>
<g stroke="#c0c0c0" stroke-width="1" stroke-dasharray="3,3" shape-rendering="crispEdges">
<line x1="0" y1="784.5" x2="1686" y2="784.5"/>
<line x1="0" y1="835.5" x2="1686" y2="835.5"/>
<line x1="0" y1="896.5" x2="1686" y2="896.5"/>
</g>
<polyline points="0.00,813.60 9.40,821.30 17.40,817.00 25.40,831.30 33.50,844.40 41.50,849.40 49.50,841.40 57.60,840.40 65.60,835.40 73.60,858.80 81.70,857.10 89.00,852.80 97.00,835.40 105.40,818.00 113.10,814.30 121.20,827.00 129.20,832.00 137.20,822.60 145.20,821.30 153.30,817.00 161.30,818.00 169.30,818.00 176.70,816.00 184.70,821.00 193.40,824.60 201.50,821.30 209.20,836.00 217.50,839.70 225.90,852.80 233.60,867.20 241.60,881.20 249.70,884.90 257.70,895.60 266.10,896.60 273.40,899.60 281.50,857.10 289.50,866.20 297.50,847.10 305.60,855.40 313.60,858.80 321.60,868.20 329.70,871.50 337.30,867.20 345.40,873.90 353.40,887.90 361.40,860.50 369.50,866.20 377.50,872.20 385.50,874.20 393.60,874.20 401.60,877.20 409.60,879.50 417.70,883.60 425.70,875.50 433.70,855.40 441.80,850.40 449.50,838.70 457.50,844.70 465.50,848.70 473.60,839.40 481.60,844.10 489.60,847.70 497.70,845.40 505.70,848.10 513.70,844.40 521.80,831.30 529.80,832.70 537.80,825.30 545.90,823.00 553.90,827.30 561.90,826.30 569.50,822.30 577.50,829.30 585.50,821.30 593.50,821.30 601.50,823.30 609.50,828.70 617.50,835.40 625.50,832.30 633.50,832.00 641.50,827.00 649.50,828.00 657.50,823.60 665.50,823.30 673.50,816.60 681.50,826.30 689.50,832.00 697.50,837.00 705.50,832.70 713.50,829.30 721.50,835.00 729.50,828.70 737.50,823.60 744.50,822.30 753.50,827.00 761.50,839.40 769.50,842.70 777.50,835.40 785.50,837.00 793.50,832.70 801.50,820.60 809.50,827.00 817.50,823.30 825.50,823.30 833.50,824.60 841.50,822.30 849.50,820.30 857.50,815.30 865.50,805.60 873.50,813.30 881.50,811.30 889.50,817.30 897.50,816.30 905.50,808.60 913.50,801.20 921.50,804.60 929.50,794.50 937.50,792.20 945.50,790.20 953.50,795.20 961.50,811.90 969.50,838.70 977.50,835.40 985.50,840.40 993.50,827.00 1001.50,825.30 1009.50,831.30 1017.50,828.70 1025.50,837.00 1033.50,838.70 1041.50,828.30 1049.50,830.30 1057.50,841.10 1065.50,837.40 1073.50,846.10 1081.50,847.70 1089.50,835.40 1097.50,834.40 1105.50,835.40 1113.50,832.30 1121.50,834.40 1129.50,830.30 1137.50,823.60 1145.50,833.00 1153.50,829.20 1161.50,835.30 1169.50,829.90 1177.50,828.20 1185.50,828.20 1193.50,815.50 1201.50,815.20 1209.50,818.90 1217.50,822.30 1225.50,820.30 1233.50,820.30 1241.50,816.50 1249.50,815.50 1257.50,824.40 1265.50,832.30 1273.50,832.30 1281.50,826.50 1289.50,833.60 1297.50,830.60 1305.50,830.60 1313.50,833.30 1321.50,833.30 1329.50,825.40 1337.50,820.30 1345.50,810.00 1353.50,805.90 1361.50,804.20 1369.50,805.20 1377.50,797.40 1385.50,798.40 1393.50,794.60 1401.50,794.60 1409.50,799.10 1417.50,797.40 1425.50,800.40 1433.50,806.60" fill="none" stroke="#1e90ff" stroke-width="1" stroke-linejoin="round" shape-rendering="crispEdges"/>
<g shape-rendering="crispEdges" fill="#000">
<rect x="0" y="21" width="1687" height="1"/>
<rect x="1686" y="21" width="1" height="568"/>
<rect x="0" y="588" width="1687" height="1"/>
<rect x="0" y="590" width="1687" height="1"/>
<rect x="1686" y="590" width="1" height="157"/>
<rect x="0" y="746" width="1687" height="1"/>
<rect x="0" y="748" width="1687" height="1"/>
<rect x="1686" y="748" width="1" height="175"/>
<rect x="0" y="922" width="1687" height="1"/>
<rect x="1687" y="24" width="2" height="1"/>
<rect x="1687" y="57" width="2" height="1"/>
<rect x="1687" y="90" width="2" height="1"/>
<rect x="1687" y="123" width="2" height="1"/>
<rect x="1687" y="156" width="2" height="1"/>
<rect x="1687" y="189" width="2" height="1"/>
<rect x="1687" y="222" width="2" height="1"/>
<rect x="1687" y="255" width="2" height="1"/>
<rect x="1687" y="288" width="2" height="1"/>
<rect x="1687" y="321" width="2" height="1"/>
<rect x="1687" y="354" width="2" height="1"/>
<rect x="1687" y="387" width="2" height="1"/>
<rect x="1687" y="420" width="2" height="1"/>
<rect x="1687" y="453" width="2" height="1"/>
<rect x="1687" y="486" width="2" height="1"/>
<rect x="1687" y="519" width="2" height="1"/>
<rect x="1687" y="552" width="2" height="1"/>
<rect x="1687" y="585" width="2" height="1"/>
<rect x="1687" y="592" width="2" height="1"/>
<rect x="1687" y="637" width="2" height="1"/>
<rect x="1687" y="745" width="2" height="1"/>
<rect x="1687" y="750" width="2" height="1"/>
<rect x="1687" y="784" width="2" height="1"/>
<rect x="1687" y="835" width="2" height="1"/>
<rect x="1687" y="896" width="2" height="1"/>
<rect x="1687" y="920" width="2" height="1"/>
<rect x="57" y="923" width="1" height="3"/>
<rect x="121" y="923" width="1" height="3"/>
<rect x="185" y="923" width="1" height="3"/>
<rect x="249" y="923" width="1" height="3"/>
<rect x="313" y="923" width="1" height="3"/>
<rect x="377" y="923" width="1" height="3"/>
<rect x="441" y="923" width="1" height="3"/>
<rect x="505" y="923" width="1" height="3"/>
<rect x="569" y="923" width="1" height="3"/>
<rect x="633" y="923" width="1" height="3"/>
<rect x="697" y="923" width="1" height="3"/>
<rect x="761" y="923" width="1" height="3"/>
<rect x="825" y="923" width="1" height="3"/>
<rect x="889" y="923" width="1" height="3"/>
<rect x="953" y="923" width="1" height="3"/>
<rect x="1017" y="923" width="1" height="3"/>
<rect x="1081" y="923" width="1" height="3"/>
<rect x="1145" y="923" width="1" height="3"/>
<rect x="1209" y="923" width="1" height="3"/>
<rect x="1273" y="923" width="1" height="3"/>
<rect x="1337" y="923" width="1" height="3"/>
<rect x="1401" y="923" width="1" height="3"/>
</g>
<rect x="1732" y="19" width="1" height="924" fill="#e0e0e0" shape-rendering="crispEdges"/>
<text x="1692" y="27.8" font-size="9.1" fill="#000" text-anchor="start"  stroke="#000" stroke-width="0.15">30076.0</text>
<text x="1692" y="60.8" font-size="9.1" fill="#000" text-anchor="start"  stroke="#000" stroke-width="0.15">29366.5</text>
<text x="1692" y="93.8" font-size="9.1" fill="#000" text-anchor="start"  stroke="#000" stroke-width="0.15">28635.5</text>
<text x="1692" y="126.8" font-size="9.1" fill="#000" text-anchor="start"  stroke="#000" stroke-width="0.15">27904.5</text>
<text x="1692" y="159.8" font-size="9.1" fill="#000" text-anchor="start"  stroke="#000" stroke-width="0.15">27195.0</text>
<text x="1692" y="192.8" font-size="9.1" fill="#000" text-anchor="start"  stroke="#000" stroke-width="0.15">26464.0</text>
<text x="1692" y="225.9" font-size="9.1" fill="#000" text-anchor="start"  stroke="#000" stroke-width="0.15">25733.0</text>
<text x="1692" y="258.9" font-size="9.1" fill="#000" text-anchor="start"  stroke="#000" stroke-width="0.15">25023.5</text>
<text x="1692" y="291.9" font-size="9.1" fill="#000" text-anchor="start"  stroke="#000" stroke-width="0.15">24292.5</text>
<text x="1692" y="324.9" font-size="9.1" fill="#000" text-anchor="start"  stroke="#000" stroke-width="0.15">23583.0</text>
<text x="1692" y="357.9" font-size="9.1" fill="#000" text-anchor="start"  stroke="#000" stroke-width="0.15">22852.0</text>
<text x="1692" y="390.9" font-size="9.1" fill="#000" text-anchor="start"  stroke="#000" stroke-width="0.15">22121.0</text>
<text x="1692" y="423.9" font-size="9.1" fill="#000" text-anchor="start"  stroke="#000" stroke-width="0.15">21411.5</text>
<text x="1692" y="456.9" font-size="9.1" fill="#000" text-anchor="start"  stroke="#000" stroke-width="0.15">20680.5</text>
<text x="1692" y="489.9" font-size="9.1" fill="#000" text-anchor="start"  stroke="#000" stroke-width="0.15">19949.5</text>
<text x="1692" y="522.9" font-size="9.1" fill="#000" text-anchor="start"  stroke="#000" stroke-width="0.15">19240.0</text>
<text x="1692" y="556.0" font-size="9.1" fill="#000" text-anchor="start"  stroke="#000" stroke-width="0.15">18509.0</text>
<text x="1692" y="589.0" font-size="9.1" fill="#000" text-anchor="start"  stroke="#000" stroke-width="0.15">17799.5</text>
<rect x="1688" y="84" width="41" height="11" fill="#ff0000" shape-rendering="crispEdges"/>
<text x="1692" y="93.3" font-size="9.1" fill="#fff" text-anchor="start"  stroke="#fff" stroke-width="0.12">28627.7</text>
<rect x="1688" y="103" width="41" height="11" fill="#ff0000" shape-rendering="crispEdges"/>
<text x="1692" y="112.3" font-size="9.1" fill="#fff" text-anchor="start"  stroke="#fff" stroke-width="0.12">28212.1</text>
<rect x="1688" y="127" width="41" height="11" fill="#000000" shape-rendering="crispEdges"/>
<text x="1692" y="136.3" font-size="9.1" fill="#fff" text-anchor="start"  stroke="#fff" stroke-width="0.12">27725.0</text>
<rect x="1688" y="144" width="41" height="11" fill="#32cd32" shape-rendering="crispEdges"/>
<text x="1692" y="153.3" font-size="9.1" fill="#fff" text-anchor="start"  stroke="#fff" stroke-width="0.12">27315.3</text>
<rect x="1688" y="162" width="41" height="11" fill="#0000ff" shape-rendering="crispEdges"/>
<text x="1692" y="171.3" font-size="9.1" fill="#fff" text-anchor="start"  stroke="#fff" stroke-width="0.12">26921.6</text>
<rect x="1688" y="179" width="41" height="11" fill="#0000ff" shape-rendering="crispEdges"/>
<text x="1692" y="188.3" font-size="9.1" fill="#fff" text-anchor="start"  stroke="#fff" stroke-width="0.12">26549.7</text>
<text x="1690.7" y="601.3" font-size="9.1" fill="#000" text-anchor="start"  stroke="#000" stroke-width="0.15">1024.52</text>
<text x="1690.7" y="641" font-size="9.1" fill="#000" text-anchor="start"  stroke="#000" stroke-width="0.15">0.00</text>
<text x="1690.7" y="743.3" font-size="9.1" fill="#000" text-anchor="start"  stroke="#000" stroke-width="0.15">-2433.25</text>
<text x="1690.8" y="758.8" font-size="9.1" fill="#000" text-anchor="start"  stroke="#000" stroke-width="0.15">100</text>
<text x="1689.5" y="788" font-size="9.1" fill="#000" text-anchor="start"  stroke="#000" stroke-width="0.15">80</text>
<text x="1689.5" y="839" font-size="9.1" fill="#000" text-anchor="start"  stroke="#000" stroke-width="0.15">50</text>
<text x="1689.5" y="899.8" font-size="9.1" fill="#000" text-anchor="start"  stroke="#000" stroke-width="0.15">15</text>
<text x="1690.8" y="918.7" font-size="9.1" fill="#000" text-anchor="start"  stroke="#000" stroke-width="0.15">0</text>
<text x="-8" y="934.8" font-size="9.1" fill="#000" text-anchor="start"  stroke="#000" stroke-width="0.15">20 Jan 2020</text>
<text x="56" y="934.8" font-size="9.1" fill="#000" text-anchor="start"  stroke="#000" stroke-width="0.15">29 Jan 2020</text>
<text x="120" y="934.8" font-size="9.1" fill="#000" text-anchor="start"  stroke="#000" stroke-width="0.15">7 Feb 2020</text>
<text x="184" y="934.8" font-size="9.1" fill="#000" text-anchor="start"  stroke="#000" stroke-width="0.15">17 Feb 2020</text>
<text x="248" y="934.8" font-size="9.1" fill="#000" text-anchor="start"  stroke="#000" stroke-width="0.15">26 Feb 2020</text>
<text x="312" y="934.8" font-size="9.1" fill="#000" text-anchor="start"  stroke="#000" stroke-width="0.15">6 Mar 2020</text>
<text x="376" y="934.8" font-size="9.1" fill="#000" text-anchor="start"  stroke="#000" stroke-width="0.15">16 Mar 2020</text>
<text x="440" y="934.8" font-size="9.1" fill="#000" text-anchor="start"  stroke="#000" stroke-width="0.15">25 Mar 2020</text>
<text x="504" y="934.8" font-size="9.1" fill="#000" text-anchor="start"  stroke="#000" stroke-width="0.15">3 Apr 2020</text>
<text x="568" y="934.8" font-size="9.1" fill="#000" text-anchor="start"  stroke="#000" stroke-width="0.15">14 Apr 2020</text>
<text x="632" y="934.8" font-size="9.1" fill="#000" text-anchor="start"  stroke="#000" stroke-width="0.15">23 Apr 2020</text>
<text x="696" y="934.8" font-size="9.1" fill="#000" text-anchor="start"  stroke="#000" stroke-width="0.15">3 May 2020</text>
<text x="760" y="934.8" font-size="9.1" fill="#000" text-anchor="start"  stroke="#000" stroke-width="0.15">12 May 2020</text>
<text x="824" y="934.8" font-size="9.1" fill="#000" text-anchor="start"  stroke="#000" stroke-width="0.15">21 May 2020</text>
<text x="888" y="934.8" font-size="9.1" fill="#000" text-anchor="start"  stroke="#000" stroke-width="0.15">31 May 2020</text>
<text x="952" y="934.8" font-size="9.1" fill="#000" text-anchor="start"  stroke="#000" stroke-width="0.15">9 Jun 2020</text>
<text x="1016" y="934.8" font-size="9.1" fill="#000" text-anchor="start"  stroke="#000" stroke-width="0.15">18 Jun 2020</text>
<text x="1080" y="934.8" font-size="9.1" fill="#000" text-anchor="start"  stroke="#000" stroke-width="0.15">28 Jun 2020</text>
<text x="1144" y="934.8" font-size="9.1" fill="#000" text-anchor="start"  stroke="#000" stroke-width="0.15">7 Jul 2020</text>
<text x="1208" y="934.8" font-size="9.1" fill="#000" text-anchor="start"  stroke="#000" stroke-width="0.15">16 Jul 2020</text>
<text x="1272" y="934.8" font-size="9.1" fill="#000" text-anchor="start"  stroke="#000" stroke-width="0.15">26 Jul 2020</text>
<text x="1336" y="934.8" font-size="9.1" fill="#000" text-anchor="start"  stroke="#000" stroke-width="0.15">4 Aug 2020</text>
<text x="1400" y="934.8" font-size="9.1" fill="#000" text-anchor="start"  stroke="#000" stroke-width="0.15">13 Aug 2020</text>
<text x="8.3" y="33" font-size="9.4" fill="#000" text-anchor="start" xml:space="preserve" textLength="195.7" lengthAdjust="spacingAndGlyphs" stroke="#000" stroke-width="0.15">DJ30-,Daily&#160;&#160;27822.0 27901.0 27594.0 27725.0</text>
<polygon points="0,32 0,29 3.5,32" fill="#000"/>
<text x="-2" y="602.6" font-size="9.4" fill="#000" text-anchor="start" textLength="126.5" lengthAdjust="spacingAndGlyphs" stroke="#000" stroke-width="0.15">MACD(12,26,9) 413.03 384.37</text>
<text x="-1.5" y="760.6" font-size="9.4" fill="#000" text-anchor="start" textLength="66" lengthAdjust="spacingAndGlyphs" stroke="#000" stroke-width="0.15">RSI(14) 66.8226</text>
<text x="1185.5" y="158.5" font-size="22" fill="#ff0000" text-anchor="middle" textLength="68" lengthAdjust="spacingAndGlyphs">27315.3</text>
<text x="1500" y="153.5" font-size="20" font-weight="600" fill="#00ff00" font-family="'Noto Serif CJK SC','Liberation Serif',serif" textLength="111" lengthAdjust="spacing">多空转折点</text>
</svg>
<div id="panel">
<div class="rb" style="left:0;top:0;width:48px;height:24px;text-indent:-6px;">SELL</div>
<div class="rb" style="left:163px;top:0;width:52px;height:24px;text-indent:-2px;">BUY</div>
<div style="left:48px;top:0;width:115px;height:24px;background:#f4f4f4;"></div>
<div style="left:50px;top:1px;width:111px;height:21px;background:#fff;border:1px solid #a8a8a8;"></div>
<div class="sp" style="left:52px;top:2px;width:19px;height:19px;"></div>
<div class="sp" style="left:140px;top:2px;width:20px;height:19px;"></div>
<div style="left:58px;top:9px;width:0;height:0;border-left:3px solid transparent;border-right:3px solid transparent;border-top:3.5px solid #4a62c0;"></div>
<div style="left:147px;top:9px;width:0;height:0;border-left:3px solid transparent;border-right:3px solid transparent;border-bottom:3.5px solid #4a62c0;"></div>
<div style="left:72px;top:2px;width:64px;height:19px;text-align:right;font-size:13px;line-height:19px;color:#202020;letter-spacing:-0.3px;">1.00</div>
<div class="pb" style="left:0;top:24px;width:105px;height:40px;"></div>
<div class="pb" style="left:107px;top:24px;width:108px;height:40px;"></div>
<div style="left:0;top:24px;width:44px;height:1px;background:#f3a0a0;"></div>
<div style="left:167px;top:24px;width:44px;height:1px;background:#f3a0a0;"></div>
<div class="sm" style="left:12px;top:45px;color:#fff;">27723</div>
<div class="bg" style="left:50.5px;top:26.5px;color:#fff;">.5</div>
<div class="sm" style="left:122px;top:45px;color:#fff;">27732</div>
<div class="bg" style="left:161px;top:26.5px;color:#fff;">.5</div>
</div>
</body></html>
